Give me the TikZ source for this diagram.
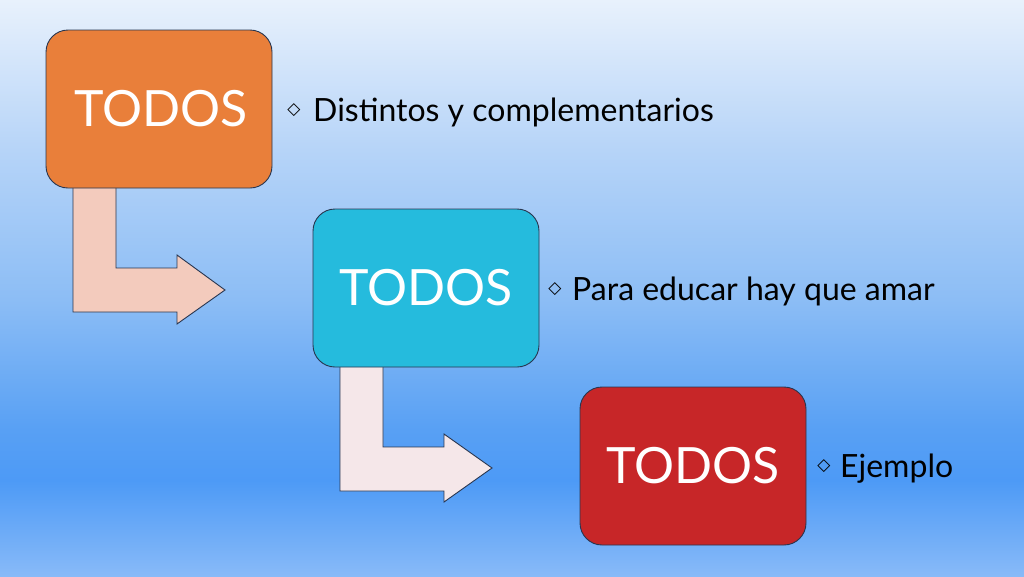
\documentclass[tikz,border=0pt]{standalone}
\usepackage{fontspec}
\setmainfont{Lato}
\newfontfamily\bulfont{DejaVu Sans}
\definecolor{bgA}{HTML}{88BAF8}
\definecolor{bgB}{HTML}{4D9AF6}
\definecolor{bgC}{HTML}{58A0F4}
\definecolor{bgD}{HTML}{8CBDF5}
\definecolor{bgE}{HTML}{B6D4F8}
\definecolor{bgF}{HTML}{E8F1FC}
\pgfdeclareverticalshading{bgshade}{100bp}{%
  color(0bp)=(bgA); color(25bp)=(bgA); color(33.3bp)=(bgB); color(37.7bp)=(bgC);
  color(49bp)=(bgD); color(62bp)=(bgE); color(75bp)=(bgF); color(100bp)=(bgF)}
\definecolor{edge}{HTML}{283650}
\definecolor{boxorange}{HTML}{E97F3A}
\definecolor{boxcyan}{HTML}{25BBDD}
\definecolor{boxred}{HTML}{C72628}
\definecolor{arrowpeach}{HTML}{F3CBBD}
\definecolor{arrowpink}{HTML}{F5E7E9}
\tikzset{
  stagebox/.style={draw=edge, line width=0.9pt, rounded corners=22pt, minimum width=226pt, minimum height=158pt, inner sep=0pt},
  bentarrow/.style={draw=edge, line width=0.9pt, line join=miter},
  boxtext/.style={text=white, font=\fontsize{50}{58}\selectfont, anchor=base, inner sep=0pt},
  labeltext/.style={text=black, font=\fontsize{32}{38}\selectfont, anchor=base west, inner sep=0pt},
  bullet/.style={text=black, font=\bulfont\bfseries\fontsize{17}{20}\selectfont, inner sep=0pt}
}
\begin{document}
\begin{tikzpicture}[x=1pt,y=-1pt]
\useasboundingbox (0,0) rectangle (1024,576);
\shade[shading=bgshade] (0,0) rectangle (1024,576);
% bent arrows (behind boxes)
\draw[bentarrow, fill=arrowpeach] (73,180) -- (116,180) -- (116,268) -- (177,268) -- (177,255) -- (225,290) -- (177,324) -- (177,312) -- (73,312) -- cycle;
\draw[bentarrow, fill=arrowpink] (340,360) -- (383,360) -- (383,447) -- (444,447) -- (444,434) -- (492,468) -- (444,502) -- (444,491) -- (340,491) -- cycle;
% boxes
\node[stagebox, fill=boxorange] (b1) at (159,109) {};
\node[stagebox, fill=boxcyan] (b2) at (426,288) {};
\node[stagebox, fill=boxred] (b3) at (693,466) {};
\node[boxtext] (t1) at (161,126) {TODOS};
\node[boxtext] (t2) at (426,305) {TODOS};
\node[boxtext] (t3) at (693,483) {TODOS};
% labels
\node[bullet] (d1) at (294,110) {◇};
\node[labeltext] (l1) at (313,121) {Distintos y complementarios};
\node[bullet] (d2) at (555,289) {◇};
\node[labeltext] (l2) at (572,300) {Para educar hay que amar};
\node[bullet] (d3) at (824,466) {◇};
\node[labeltext] (l3) at (840,477) {Ejemplo};
\end{tikzpicture}
\end{document}
